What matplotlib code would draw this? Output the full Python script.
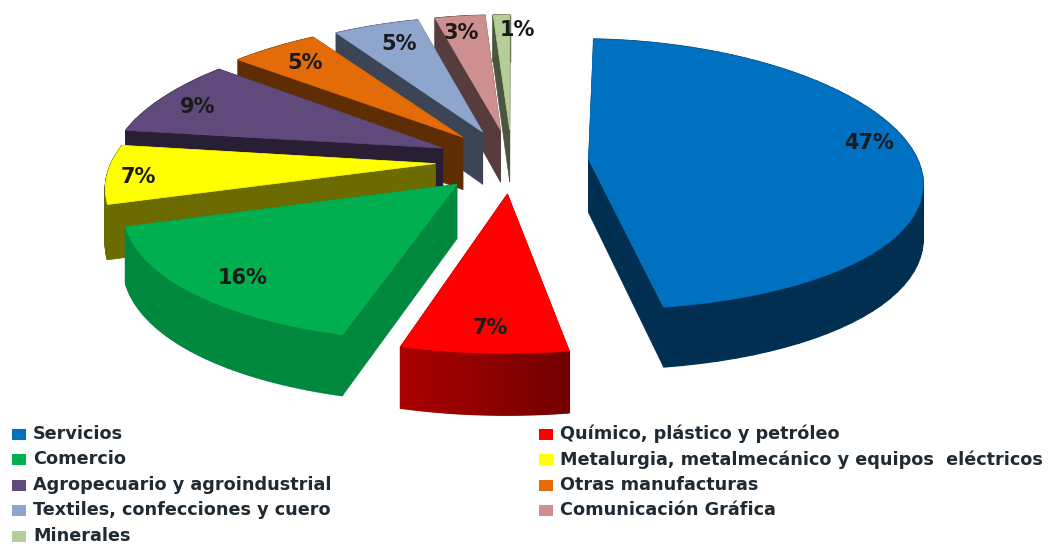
import numpy as np
import matplotlib
matplotlib.use("Agg")
import matplotlib.pyplot as plt
from matplotlib.patches import Polygon, Rectangle

categories = ["Servicios", "Químico, plástico y petróleo", "Comercio",
              "Metalurgia, metalmecánico y equipos  eléctricos",
              "Agropecuario y agroindustrial", "Otras manufacturas",
              "Textiles, confecciones y cuero", "Comunicación Gráfica", "Minerales"]
values = [47, 7, 16, 7, 9, 5, 5, 3, 1]
colors = ["#0070c0", "#ff0000", "#00b050", "#ffff00", "#604a7b",
          "#e36c09", "#8ea5cd", "#cd8f8f", "#b5cd96"]

# pie geometry, in pixels of the figure
CX, CY = 512, 161
RX, RY = 320, 134
PX, PY = 0.15, 0.11
EXPLODE = 0.24
DEPTH = 60
START = np.radians(3)
rim_x = [1.03, 1, 1, 1.01, 1.04, 1.05, 1.02, 1, 1]
label_r = [0.88, 0.88, 0.80, 0.88, 0.88, 0.82, 0.78, 0.82, 0.85]
label_dx = [2, 3, -8, -12, -8, -8, 0, -5, 15]
label_dy = [-10, -4, 8, 4, 4, 0, -3, -2, -1]


def project(u, v, z=0.0):
    x = CX + RX * u / (1 - PX * v)
    y = CY + RY * v / (1 - PY * v) + z * DEPTH / (1 - PY * v) * 0.89
    return np.column_stack([x, y])


def shade(c, f):
    return tuple(np.array(matplotlib.colors.to_rgb(c)) * f)


fig = plt.figure(figsize=(10.49, 5.44), dpi=100)
ax = fig.add_axes([0, 0, 1, 1])
ax.set_xlim(0, 1049)
ax.set_ylim(544, 0)
ax.axis("off")

edges = START + np.cumsum([0] + values) / sum(values) * (2 * np.pi - START)
mids = (edges[:-1] + edges[1:]) / 2
order = np.argsort(-np.cos(mids))

for i in order:
    a0, a1 = edges[i], edges[i + 1]
    du, dv = EXPLODE * np.sin(mids[i]), -EXPLODE * np.cos(mids[i])
    t = np.linspace(a0, a1, 60)
    u = du + rim_x[i] * np.sin(t)
    v = dv - np.cos(t)
    top_arc = project(u, v)
    low_arc = project(u, v, 1)
    apex_t = project(np.array([du]), np.array([dv]))
    apex_b = project(np.array([du]), np.array([dv]), 1)
    side = shade(colors[i], 0.78 if i == 2 else 0.42)
    # radial faces
    for k in (0, -1):
        face = np.vstack([apex_t, top_arc[k], low_arc[k], apex_b])
        ax.add_patch(Polygon(face, closed=True, fc=side, ec=side, lw=0.5))
    # outer wall, one strip per arc step so that it can shade along the rim
    for k in range(len(t) - 1):
        f = 0.45 + 0.22 * k / (len(t) - 2) if i == 1 else 0.78 if i == 2 else 0.42
        c = shade(colors[i], f)
        quad = np.vstack([top_arc[k], top_arc[k + 1], low_arc[k + 1], low_arc[k]])
        ax.add_patch(Polygon(quad, closed=True, fc=c, ec=c, lw=1))
    top = np.vstack([apex_t, top_arc])
    ax.add_patch(Polygon(top, closed=True, fc=colors[i], ec=colors[i], lw=0.5))
    # percentage label
    lu = du + label_r[i] * np.sin(mids[i])
    lv = dv - label_r[i] * np.cos(mids[i])
    pos = project(np.array([lu]), np.array([lv]))[0]
    ax.text(pos[0] + label_dx[i], pos[1] + label_dy[i], f"{values[i]}%", ha="center", va="center",
            fontsize=15, fontweight="bold", family="DejaVu Sans", color="#1a1a1a")

# legend, two columns filled row by row
for n, (name, col) in enumerate(zip(categories, colors)):
    row, column = n // 2, n % 2
    x = 12 if column == 0 else 539
    y = 434 + row * 25.4
    ax.add_patch(Rectangle((x, y - 5), 14, 11, fc=col, ec="none"))
    ax.text(x + 21, y, name, ha="left", va="center", fontsize=12.7,
            fontweight="bold", family="DejaVu Sans", color="#1f2a33")

fig.savefig("out.png", dpi=100)
